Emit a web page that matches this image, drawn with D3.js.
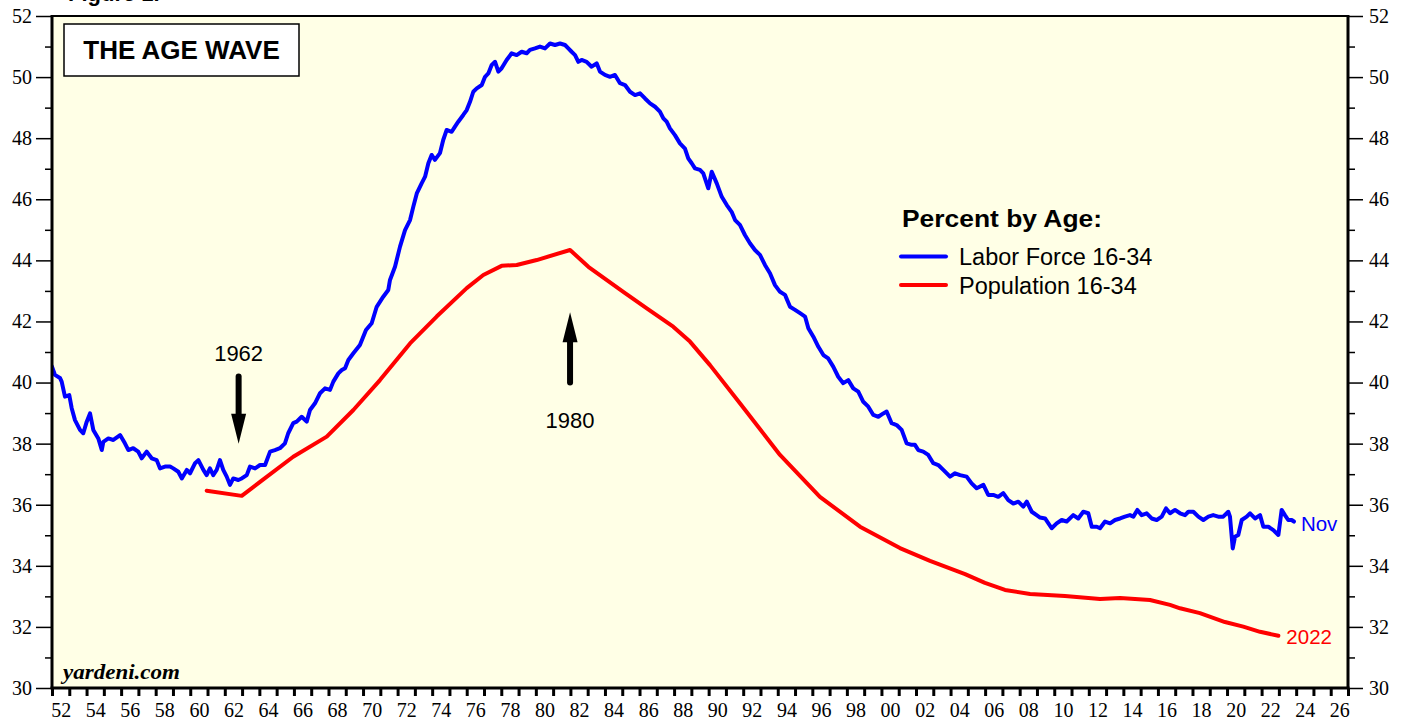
<!DOCTYPE html>
<html>
<head>
<meta charset="utf-8">
<script src="https://cdn.jsdelivr.net/npm/d3@7"></script>
<style>
  body { margin: 0; background: #fff; }
  svg { display: block; }
</style>
</head>
<body>
<svg id="chart" width="1407" height="721"></svg>
<script>
// Labor force 16-34 as % of labor force (monthly)
const laborForce = [
  [1952.00, 40.52], [1952.17, 40.25], [1952.46, 40.15], [1952.56, 40.03], [1952.75, 39.54],
  [1953.00, 39.59], [1953.14, 39.16], [1953.33, 38.77], [1953.62, 38.45], [1953.81, 38.34],
  [1954.01, 38.72], [1954.20, 38.99], [1954.39, 38.45], [1954.68, 38.17], [1954.88, 37.79],
  [1954.97, 38.06], [1955.26, 38.17], [1955.55, 38.12], [1955.94, 38.28], [1956.22, 38.01],
  [1956.42, 37.79], [1956.70, 37.85], [1956.99, 37.74], [1957.19, 37.52], [1957.48, 37.74],
  [1957.77, 37.52], [1958.06, 37.46], [1958.25, 37.19], [1958.54, 37.25], [1958.83, 37.25],
  [1959.02, 37.19], [1959.31, 37.08], [1959.51, 36.86], [1959.80, 37.14], [1959.99, 37.03],
  [1960.28, 37.36], [1960.47, 37.46], [1960.76, 37.14], [1960.95, 36.97], [1961.14, 37.19],
  [1961.33, 36.97], [1961.53, 37.14], [1961.72, 37.46], [1961.91, 37.14], [1962.11, 36.92],
  [1962.30, 36.65], [1962.49, 36.86], [1962.78, 36.81], [1962.98, 36.86], [1963.27, 36.97],
  [1963.46, 37.25], [1963.75, 37.19], [1964.04, 37.30], [1964.33, 37.30], [1964.62, 37.74],
  [1964.90, 37.79], [1965.19, 37.85], [1965.48, 38.01], [1965.67, 38.34], [1965.96, 38.67],
  [1966.16, 38.72], [1966.45, 38.88], [1966.74, 38.72], [1966.93, 39.10], [1967.22, 39.32],
  [1967.51, 39.65], [1967.80, 39.81], [1968.09, 39.76], [1968.28, 40.03], [1968.57, 40.30],
  [1968.77, 40.41], [1968.96, 40.47], [1969.15, 40.74], [1969.44, 40.96], [1969.82, 41.23],
  [1970.17, 41.72], [1970.50, 41.94], [1970.79, 42.48], [1971.17, 42.81], [1971.46, 43.03],
  [1971.56, 43.36], [1971.85, 43.79], [1972.14, 44.45], [1972.43, 44.99], [1972.72, 45.32],
  [1972.91, 45.76], [1973.11, 46.19], [1973.39, 46.52], [1973.59, 46.74], [1973.78, 47.18],
  [1973.97, 47.45], [1974.16, 47.29], [1974.45, 47.51], [1974.64, 47.94], [1974.84, 48.27],
  [1975.13, 48.21], [1975.32, 48.38], [1975.51, 48.54], [1975.80, 48.76], [1976.00, 48.92],
  [1976.19, 49.19], [1976.38, 49.52], [1976.58, 49.63], [1976.87, 49.74], [1977.06, 50.01],
  [1977.25, 50.12], [1977.45, 50.40], [1977.64, 50.50], [1977.83, 50.18], [1978.02, 50.29],
  [1978.31, 50.56], [1978.60, 50.78], [1978.89, 50.72], [1979.18, 50.83], [1979.47, 50.78],
  [1979.66, 50.89], [1979.95, 50.94], [1980.24, 51.00], [1980.53, 50.94], [1980.82, 51.10],
  [1981.11, 51.05], [1981.40, 51.10], [1981.69, 51.05], [1981.88, 50.94], [1982.07, 50.83],
  [1982.27, 50.72], [1982.46, 50.50], [1982.65, 50.56], [1982.94, 50.50], [1983.23, 50.34],
  [1983.52, 50.45], [1983.71, 50.18], [1984.00, 50.07], [1984.29, 50.01], [1984.58, 50.07],
  [1984.87, 49.80], [1985.16, 49.74], [1985.45, 49.52], [1985.74, 49.41], [1986.03, 49.47],
  [1986.32, 49.30], [1986.61, 49.14], [1986.90, 49.03], [1987.18, 48.87], [1987.38, 48.65],
  [1987.57, 48.54], [1987.76, 48.32], [1988.05, 48.10], [1988.34, 47.83], [1988.63, 47.66],
  [1988.82, 47.34], [1989.02, 47.18], [1989.21, 47.01], [1989.50, 46.96], [1989.69, 46.85],
  [1989.98, 46.36], [1990.18, 46.90], [1990.47, 46.52], [1990.76, 46.08], [1991.05, 45.81],
  [1991.33, 45.59], [1991.53, 45.32], [1991.81, 45.16], [1992.10, 44.83], [1992.39, 44.56],
  [1992.68, 44.34], [1992.97, 44.18], [1993.26, 43.85], [1993.55, 43.58], [1993.84, 43.19],
  [1994.13, 42.97], [1994.42, 42.87], [1994.71, 42.48], [1995.00, 42.38], [1995.29, 42.27],
  [1995.58, 42.16], [1995.77, 41.78], [1996.06, 41.50], [1996.35, 41.17], [1996.64, 40.90],
  [1996.92, 40.79], [1997.21, 40.52], [1997.50, 40.19], [1997.79, 39.98], [1998.08, 40.08],
  [1998.37, 39.81], [1998.66, 39.70], [1998.95, 39.37], [1999.24, 39.21], [1999.53, 38.94],
  [1999.82, 38.88], [2000.11, 38.99], [2000.30, 39.05], [2000.59, 38.67], [2000.88, 38.61],
  [2001.17, 38.45], [2001.46, 38.01], [2001.75, 37.96], [2001.94, 37.96], [2002.13, 37.79],
  [2002.42, 37.74], [2002.71, 37.63], [2003.00, 37.36], [2003.29, 37.30], [2003.58, 37.14],
  [2003.97, 36.92], [2004.26, 37.03], [2004.55, 36.97], [2004.93, 36.92], [2005.22, 36.70],
  [2005.51, 36.54], [2005.90, 36.65], [2006.18, 36.32], [2006.47, 36.32], [2006.76, 36.26],
  [2007.05, 36.38], [2007.34, 36.15], [2007.63, 36.04], [2007.92, 36.10], [2008.21, 35.94],
  [2008.41, 36.10], [2008.70, 35.77], [2008.98, 35.66], [2009.18, 35.58], [2009.47, 35.55],
  [2009.85, 35.23], [2010.14, 35.39], [2010.43, 35.50], [2010.72, 35.45], [2011.10, 35.66],
  [2011.39, 35.55], [2011.68, 35.77], [2011.97, 35.72], [2012.17, 35.28], [2012.46, 35.28],
  [2012.65, 35.23], [2012.94, 35.45], [2013.23, 35.39], [2013.52, 35.50], [2013.81, 35.55],
  [2014.09, 35.61], [2014.38, 35.66], [2014.58, 35.61], [2014.81, 35.83], [2015.06, 35.66],
  [2015.35, 35.72], [2015.64, 35.55], [2015.93, 35.50], [2016.22, 35.61], [2016.47, 35.88],
  [2016.70, 35.72], [2016.99, 35.83], [2017.28, 35.72], [2017.57, 35.66], [2017.76, 35.77],
  [2018.05, 35.77], [2018.34, 35.61], [2018.63, 35.50], [2018.92, 35.61], [2019.20, 35.66],
  [2019.49, 35.61], [2019.78, 35.61], [2020.07, 35.77], [2020.17, 35.61], [2020.33, 34.57],
  [2020.46, 34.95], [2020.65, 35.01], [2020.85, 35.50], [2021.14, 35.61], [2021.33, 35.72],
  [2021.62, 35.55], [2021.91, 35.66], [2022.10, 35.28], [2022.39, 35.28], [2022.68, 35.17],
  [2022.97, 35.01], [2023.16, 35.83], [2023.35, 35.66], [2023.54, 35.50], [2023.74, 35.50],
  [2023.87, 35.45]
];

// Population 16-34 as % of civilian population 16+ (annual)
const population = [
  [1960.95, 36.46], [1962.98, 36.29], [1964.04, 36.75], [1965.96, 37.57], [1967.90, 38.23],
  [1969.44, 39.10], [1970.98, 40.08], [1972.72, 41.28], [1974.26, 42.16], [1976.00, 43.09],
  [1976.96, 43.52], [1978.02, 43.82], [1978.89, 43.85], [1980.05, 44.01], [1981.98, 44.34],
  [1983.04, 43.79], [1985.06, 42.97], [1986.42, 42.43], [1987.95, 41.83], [1988.92, 41.34],
  [1990.08, 40.57], [1991.81, 39.32], [1994.13, 37.63], [1996.44, 36.26], [1998.76, 35.28],
  [2001.07, 34.58], [2002.81, 34.16], [2004.84, 33.73], [2005.99, 33.44], [2007.15, 33.21],
  [2008.60, 33.08], [2010.62, 33.01], [2012.65, 32.91], [2013.81, 32.95], [2015.54, 32.88],
  [2016.70, 32.72], [2017.28, 32.61], [2018.43, 32.45], [2019.88, 32.16], [2020.94, 32.01],
  [2021.91, 31.84], [2022.97, 31.71]
];

const yMajor = d3.range(30, 53, 2);
const yMinor = d3.range(31, 52, 2);
const xYears = d3.range(1952, 2028);
const xLabels = d3.range(1952, 2027, 2);

// annotation arrows: label, x position (year), tail and tip values, label baseline value
const arrows = [
  { label: "1962", at: 1962.8, from: 40.2, to: 38.0, labelAt: 40.71 },
  { label: "1980", at: 1981.98, from: 40.0, to: 42.3, labelAt: 38.5 }
];

const svg = d3.select("#chart");
const plotLeft = 52, plotRight = 1348, plotTop = 16, plotBottom = 688;

const x = d3.scaleLinear().domain([1952, 2027]).range([plotLeft, plotRight]);
const y = d3.scaleLinear().domain([30, 52]).range([plotBottom, plotTop]);

const sans = "'Liberation Sans', Arial, sans-serif";
const serif = "'Liberation Serif', 'Times New Roman', serif";

// plot background
svg.append("rect")
  .attr("x", plotLeft).attr("y", plotTop)
  .attr("width", plotRight - plotLeft).attr("height", plotBottom - plotTop)
  .attr("fill", "#ffffe6");

// figure caption, cut off by the top of the image as in the source
svg.append("text")
  .attr("x", 68).attr("y", 1)
  .attr("font-family", sans).attr("font-weight", "bold").attr("font-size", 22)
  .text("Figure 1.");

svg.append("clipPath").attr("id", "plot")
  .append("rect").attr("x", plotLeft).attr("y", plotTop)
  .attr("width", plotRight - plotLeft).attr("height", plotBottom - plotTop);

const line = d3.line().x(d => x(d[0])).y(d => y(d[1]));

const g = svg.append("g").attr("clip-path", "url(#plot)");
g.append("path").datum(population)
  .attr("fill", "none").attr("stroke", "#ff0000").attr("stroke-width", 4)
  .attr("stroke-linejoin", "round").attr("stroke-linecap", "round")
  .attr("d", line);
g.append("path").datum(laborForce)
  .attr("fill", "none").attr("stroke", "#0000ff").attr("stroke-width", 4)
  .attr("stroke-linejoin", "round").attr("stroke-linecap", "round")
  .attr("d", line);

// y axes, left and right
function styleAxis(sel) {
  sel.select(".domain").remove();
  sel.selectAll("line").attr("stroke", "#000").attr("stroke-width", 1.5);
  sel.selectAll("text").attr("font-family", serif).attr("font-size", 20).attr("fill", "#000");
}

svg.append("g").attr("transform", `translate(${plotLeft},0)`)
  .call(d3.axisLeft(y).tickValues(yMajor).tickSize(16).tickPadding(4).tickFormat(d3.format("d")))
  .call(styleAxis);
svg.append("g").attr("transform", `translate(${plotLeft},0)`)
  .call(d3.axisLeft(y).tickValues(yMinor).tickSize(7).tickFormat(""))
  .call(styleAxis);
svg.append("g").attr("transform", `translate(${plotRight},0)`)
  .call(d3.axisRight(y).tickValues(yMajor).tickSize(15).tickPadding(6).tickFormat(d3.format("d")))
  .call(styleAxis);
svg.append("g").attr("transform", `translate(${plotRight},0)`)
  .call(d3.axisRight(y).tickValues(yMinor).tickSize(7).tickFormat(""))
  .call(styleAxis);

// x axis: yearly ticks, two-year labels centred in the year
svg.append("g").attr("transform", `translate(0,${plotBottom})`)
  .call(d3.axisBottom(x).tickValues(xYears).tickSize(8).tickFormat(""))
  .call(sel => {
    sel.select(".domain").remove();
    sel.selectAll("line").attr("stroke", "#000").attr("stroke-width", 3);
  });
svg.append("g").attr("transform", `translate(0,${plotBottom})`)
  .call(d3.axisBottom(x).tickValues(xLabels.map(d => d + 0.5)).tickSize(0).tickPadding(15)
    .tickFormat(d => String(Math.floor(d) % 100).padStart(2, "0")))
  .call(sel => {
    sel.select(".domain").remove();
    sel.selectAll("text").attr("font-family", serif).attr("font-size", 20).attr("fill", "#000");
  });

// frame
svg.append("line").attr("x1", plotLeft).attr("x2", plotRight).attr("y1", plotTop).attr("y2", plotTop)
  .attr("stroke", "#000").attr("stroke-width", 2);
svg.append("line").attr("x1", plotLeft - 1.5).attr("x2", plotRight + 1.5).attr("y1", plotBottom).attr("y2", plotBottom)
  .attr("stroke", "#000").attr("stroke-width", 3);
svg.append("line").attr("x1", plotLeft).attr("x2", plotLeft).attr("y1", plotTop - 1).attr("y2", plotBottom)
  .attr("stroke", "#000").attr("stroke-width", 3);
svg.append("line").attr("x1", plotRight).attr("x2", plotRight).attr("y1", plotTop - 1).attr("y2", plotBottom)
  .attr("stroke", "#000").attr("stroke-width", 3);

// title box
svg.append("rect").attr("x", 64).attr("y", 24).attr("width", 235).attr("height", 52)
  .attr("fill", "#fff").attr("stroke", "#000").attr("stroke-width", 1.5);
svg.append("text").attr("x", 181.5).attr("y", 58.5).attr("text-anchor", "middle")
  .attr("font-family", sans).attr("font-weight", "bold").attr("font-size", 26)
  .text("THE AGE WAVE");

// legend
svg.append("text").attr("x", 902).attr("y", 227)
  .attr("font-family", sans).attr("font-weight", "bold").attr("font-size", 23)
  .attr("textLength", 200).attr("lengthAdjust", "spacingAndGlyphs")
  .text("Percent by Age:");
const legend = [
  { name: "Labor Force 16-34", color: "#0000ff", yy: 256.5 },
  { name: "Population 16-34", color: "#ff0000", yy: 285 }
];
legend.forEach(d => {
  svg.append("line").attr("x1", 901).attr("x2", 946).attr("y1", d.yy).attr("y2", d.yy)
    .attr("stroke", d.color).attr("stroke-width", 4).attr("stroke-linecap", "round");
  svg.append("text").attr("x", 959).attr("y", d.yy + 8.5)
    .attr("font-family", sans).attr("font-size", 23.5).text(d.name);
});

// arrows
arrows.forEach(a => {
  const ax = x(a.at);
  const y0 = y(a.from), y1 = y(a.to);
  const dir = y1 > y0 ? 1 : -1;
  const headLen = 30;
  svg.append("line").attr("x1", ax).attr("x2", ax).attr("y1", y0).attr("y2", y1 - dir * headLen)
    .attr("stroke", "#000").attr("stroke-width", 6).attr("stroke-linecap", "round");
  svg.append("path")
    .attr("d", `M${ax - 7.5},${y1 - dir * headLen} L${ax + 7.5},${y1 - dir * headLen} L${ax},${y1} Z`)
    .attr("fill", "#000");
  svg.append("text").attr("x", ax).attr("y", y(a.labelAt)).attr("text-anchor", "middle")
    .attr("font-family", sans).attr("font-size", 22).text(a.label);
});

// end labels
const lastLabor = laborForce[laborForce.length - 1];
const lastPop = population[population.length - 1];
svg.append("text").attr("x", x(lastLabor[0]) + 7).attr("y", y(lastLabor[1]) + 9)
  .attr("font-family", sans).attr("font-size", 20.5).attr("fill", "#0000ff").text("Nov");
svg.append("text").attr("x", x(lastPop[0]) + 8).attr("y", y(lastPop[1]) + 8)
  .attr("font-family", sans).attr("font-size", 20.5).attr("fill", "#ff0000").text("2022");

// source
svg.append("text").attr("x", 63).attr("y", 679)
  .attr("font-family", serif).attr("font-weight", "bold").attr("font-style", "italic")
  .attr("font-size", 22).attr("textLength", 117).attr("lengthAdjust", "spacingAndGlyphs")
  .text("yardeni.com");
</script>
</body>
</html>
